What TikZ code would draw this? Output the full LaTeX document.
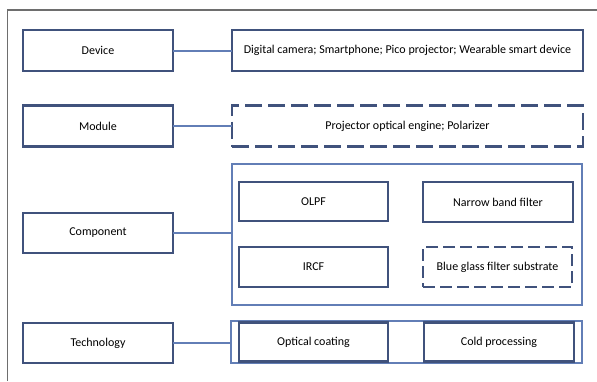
\documentclass[tikz,border=0pt]{standalone}
\usepackage{fontspec}
\setmainfont{Carlito}
\definecolor{boxdark}{RGB}{64,82,124}
\definecolor{boxlight}{RGB}{98,126,182}
\definecolor{framegray}{RGB}{110,110,110}
\begin{document}
\begin{tikzpicture}[x=1pt,y=-1pt,
  every node/.style={font=\fontsize{12}{14}\selectfont, inner sep=0pt, outer sep=0pt},
  level/.style={draw=boxdark, line width=2.8pt, minimum width=150pt, minimum height=41pt},
  item/.style={draw=boxdark, line width=2.8pt},
  dashitem/.style={draw=boxdark, line width=2.8pt, dash pattern=on 12pt off 5pt},
  group/.style={draw=boxlight, line width=1.5pt},
  link/.style={draw=boxlight, line width=2pt}]
\useasboundingbox (0,0) rectangle (597,381);
% page frame, cut at the right and bottom edges
\draw[framegray, line width=1.6pt] (7.5,381) -- (7.5,10) -- (597,10);

% left column: levels
\node[level] (device) at (98,50.5) {Device};
\node[level] (module) at (98,126) {Module};
\node[level, minimum height=40pt] (component) at (98,233) {Component};
\node[level, minimum height=40pt] (technology) at (98,343) {Technology};

% device row
\node[item, minimum width=351pt, minimum height=41pt] (devices) at (407.5,50.5)
  {Digital camera; Smartphone; Pico projector; Wearable smart device};

% module row
\node[dashitem, dash pattern=on 17pt off 6pt, minimum width=351pt, minimum height=41pt]
  (modules) at (407.5,126) {Projector optical engine; Polarizer};

% component row
\node[group, minimum width=350pt, minimum height=141pt] (compgroup) at (407,234.5) {};
\node[item, minimum width=149pt, minimum height=39pt] (olpf) at (313.5,201.5) {OLPF};
\node[item, minimum width=150pt, minimum height=40pt] (narrow) at (498,202) {Narrow band filter};
\node[item, minimum width=149pt, minimum height=40pt] (ircf) at (313.5,267) {IRCF};
\node[dashitem, minimum width=149pt, minimum height=40pt] (blueglass) at (497.5,267) {Blue glass filter substrate};

% technology row
\node[group, minimum width=351pt, minimum height=42pt] (techgroup) at (406.5,342) {};
\node[item, minimum width=149pt, minimum height=39pt] (coating) at (313.5,342) {Optical coating};
\node[item, minimum width=150pt, minimum height=39pt] (cold) at (499,342) {Cold processing};

% connectors
\draw[link] (device.east) -- (devices.west);
\draw[link] (module.east) -- (modules.west);
\draw[link] (component.east) -- (component.east -| compgroup.west);
\draw[link] (technology.east) -- (technology.east -| techgroup.west);
\end{tikzpicture}
\end{document}
